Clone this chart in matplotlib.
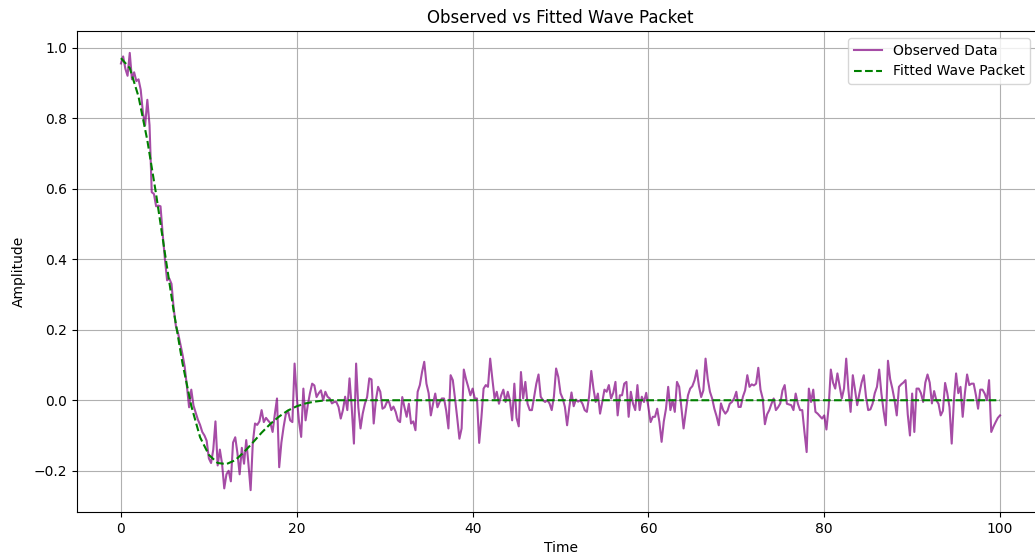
import numpy as np
import matplotlib
matplotlib.use("Agg")
import matplotlib.pyplot as plt

# Observed samples, uniformly spaced from t=0 to t=100 (step 0.25)
observed = [
    0.955, 0.975, 0.94, 0.92, 0.985, 0.91, 0.93, 0.905, 0.91, 0.88, 0.815, 0.78, 0.852, 0.78, 0.59, 0.585, 0.55, 0.552, 0.55, 0.47,
    0.40, 0.34, 0.345, 0.33, 0.26, 0.21, 0.19, 0.16, 0.13, 0.095, 0.04, -0.02, 0.03, -0.015, -0.035, -0.055, -0.07, -0.09, -0.10, -0.115,
    -0.165, -0.178, -0.14, -0.06, -0.185, -0.14, -0.18, -0.25, -0.21, -0.20, -0.23, -0.12, -0.105, -0.15, -0.21, -0.135, -0.18, -0.113, -0.18, -0.255,
    -0.12, -0.066, -0.07, -0.06, -0.028, -0.062, -0.05, -0.058, -0.065, -0.09, -0.04, 0.005, -0.19, -0.12, -0.076, -0.04, -0.03, -0.057, -0.062, 0.104,
    0.009, -0.06, -0.104, 0.033, -0.057, -0.014, 0.02, 0.047, 0.042, 0.009, 0.02, 0.028, 0.0, 0.024, 0.01, 0.005, -0.009, -0.005, -0.005, -0.019,
    -0.052, -0.028, 0.01, -0.028, 0.062, -0.02, -0.123, 0.104, -0.02, -0.08, -0.038, -0.01, 0.009, 0.062, 0.059, -0.066, 0.0, 0.038, 0.024, -0.024,
    -0.02, -0.005, -0.005, -0.028, -0.018, -0.033, -0.057, -0.062, 0.009, -0.02, -0.047, -0.01, -0.066, -0.06, -0.085, 0.024, 0.043, 0.08, 0.109, 0.047,
    0.02, -0.043, -0.01, 0.019, -0.02, -0.005, 0.005, 0.005, -0.03, -0.08, 0.071, 0.057, 0.005, -0.05, -0.109, -0.08, 0.087, 0.06, 0.038, 0.014,
    0.033, 0.005, 0.005, -0.121, -0.05, 0.033, 0.043, 0.038, 0.118, 0.06, 0.005, 0.024, -0.01, 0.014, 0.03, -0.005, 0.024, 0.0, -0.057, 0.047,
    -0.05, -0.074, 0.08, 0.005, 0.052, -0.01, -0.028, -0.028, 0.01, 0.047, 0.073, 0.01, 0.0, -0.005, 0.0, -0.009, -0.028, 0.01, 0.09, 0.066,
    0.02, 0.005, -0.019, -0.071, -0.02, 0.022, -0.017, 0.002, -0.004, 0.0, -0.01, -0.028, -0.033, 0.01, 0.083, 0.033, -0.005, 0.019, -0.038, -0.005,
    0.03, 0.024, 0.043, 0.005, 0.021, 0.052, -0.043, 0.014, 0.014, 0.047, 0.052, -0.047, 0.024, -0.01, -0.028, 0.043, -0.028, 0.01, -0.005, 0.021,
    -0.02, -0.062, -0.047, -0.047, -0.024, -0.062, -0.118, -0.06, -0.024, 0.038, -0.028, 0.0, -0.033, 0.052, 0.038, -0.02, -0.08, -0.033, 0.014, 0.033,
    0.04, 0.057, 0.085, 0.04, 0.009, 0.028, 0.118, 0.06, 0.024, 0.005, -0.024, -0.045, -0.071, -0.009, -0.028, -0.038, -0.03, -0.01, -0.005, 0.005,
    0.024, -0.019, -0.019, 0.01, 0.028, 0.071, 0.038, 0.045, 0.042, 0.047, 0.092, 0.03, 0.005, -0.068, -0.04, -0.028, -0.01, 0.005, -0.028, -0.02,
    -0.009, 0.028, 0.043, -0.01, -0.012, -0.014, -0.028, 0.019, -0.01, -0.028, -0.028, -0.09, -0.147, 0.033, -0.005, 0.03, -0.033, -0.038, -0.045, -0.052,
    -0.043, -0.083, -0.02, 0.087, 0.05, 0.033, 0.076, 0.04, 0.005, 0.033, 0.118, 0.03, -0.033, 0.071, 0.03, -0.014, 0.019, 0.05, 0.071, 0.01,
    -0.028, -0.026, -0.01, 0.02, 0.038, 0.087, 0.02, -0.03, -0.071, 0.112, 0.06, 0.033, 0.0, -0.043, 0.038, 0.045, 0.05, 0.057, -0.04, -0.1,
    0.019, -0.09, 0.033, 0.033, 0.02, -0.005, 0.05, 0.073, 0.05, -0.009, 0.026, 0.0, -0.01, -0.043, -0.03, 0.049, 0.02, -0.02, -0.123, 0.0,
    0.076, 0.02, 0.038, -0.047, 0.02, 0.073, 0.043, 0.047, 0.047, 0.015, -0.024, 0.03, 0.03, 0.019, 0.0, 0.057, -0.09, -0.075, -0.062, -0.05,
    -0.043,
]
time = np.linspace(0, 100, len(observed))

# Fitted wave packet read at selected times
fit_time = [0, 1, 2, 3, 4, 5, 6, 7, 8, 9, 10, 11, 12, 13, 14, 15, 16, 17, 18, 19, 20,
            21, 22, 23, 24, 25, 100]
fit_values = [0.97, 0.942, 0.861, 0.737, 0.584, 0.417, 0.253, 0.105, -0.016, -0.105,
              -0.155, -0.178, -0.181, -0.170, -0.147, -0.120, -0.092, -0.067, -0.046,
              -0.029, -0.017, -0.009, -0.004, -0.001, 0.0, 0.0, 0.0]

fig = plt.figure(figsize=(10.35, 5.58), dpi=100)
ax = fig.add_axes([0.0744, 0.0824, 0.9343, 0.862])
ax.plot(time, observed, color="purple", alpha=0.7, label="Observed Data")
ax.plot(fit_time, fit_values, "g--", label="Fitted Wave Packet")
ax.set_title("Observed vs Fitted Wave Packet")
ax.set_xlabel("Time")
ax.set_ylabel("Amplitude", labelpad=6)
ax.grid(True)
ax.legend(loc="upper right", bbox_to_anchor=(0.9928, 1.0))
fig.savefig("out.png", dpi=100)
